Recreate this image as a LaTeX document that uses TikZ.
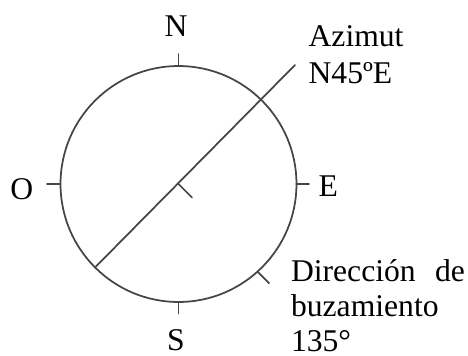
\documentclass[tikz,border=0pt]{standalone}
\usepackage{fontspec}
\setmainfont{Liberation Serif}
\usetikzlibrary{calc}
\definecolor{LineGray}{RGB}{70,70,70}

\begin{document}
\begin{tikzpicture}[x=0.02cm, y=-0.02cm, font=\fontsize{18}{20.5}\selectfont]
    \tikzset{
        rimline/.style={draw=LineGray, line width=1pt, line cap=round},
        cardinal/.style={inner sep=0pt, anchor=base},
        caption/.style={inner sep=0pt, anchor=base west}
    }
    \useasboundingbox (0,0) rectangle (468,356);
    \node[circle, rimline, minimum size=4.72cm, inner sep=0pt, outer sep=0pt] (rim) at (178.5,184) {};
    \coordinate (azend) at (295,65);
    % cardinal points
    \node[cardinal] (nlabel) at (176,36.7) {N};
    \node[cardinal] (olabel) at (21.7,199.3) {O};
    \node[caption] (elabel) at (318.3,196) {E};
    \node[cardinal] (slabel) at (176,350.5) {S};
    \draw[rimline] (rim.north) -- ++(0,0.24cm);
    \draw[rimline] (rim.west) -- ++(-0.27cm,0);
    \draw[rimline] (rim.east) -- ++(0.25cm,0);
    \draw[rimline] (rim.south) -- ++(0,-0.23cm);
    % strike and dip
    \draw[rimline] (rim.225) -- (azend);
    \draw[rimline] (rim.center) -- ++(-45:0.38cm);
    \draw[rimline] (rim.-48) -- ++(-45:0.33cm);
    \node[caption] (azimut) at (308.3,46.3) {Azimut};
    \node[caption] (azval) at (308.3,83.3) {N45ºE};
    \node[caption] (dipdir) at (290.7,281.7) {\makebox[3.48cm][s]{Dirección de}};
    \node[caption] (dipword) at (290.7,316.5) {buzamiento};
    \node[caption] (dipval) at (290.7,351) {135°};
\end{tikzpicture}
\end{document}
